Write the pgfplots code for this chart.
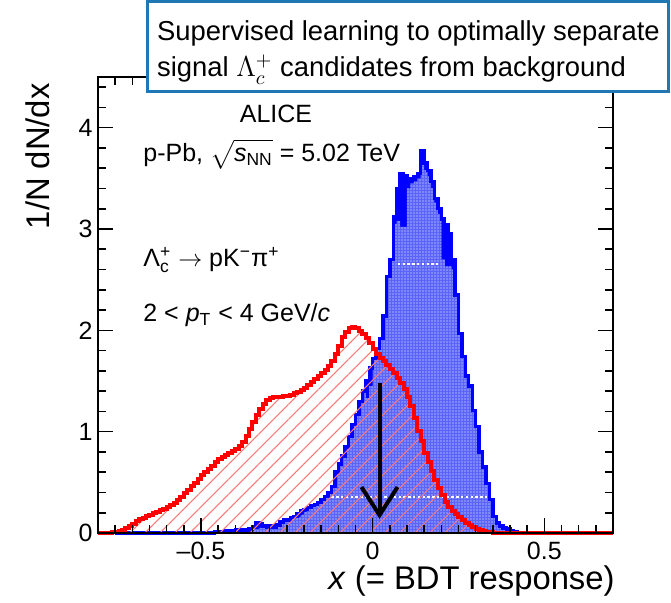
\documentclass[border=0pt]{standalone}
\usepackage{amsmath}
\usepackage{fontspec}
\setmainfont{Liberation Sans}
\usepackage{pgfplots}
\pgfplotsset{compat=1.18}
\usepackage{pgfplotstable}
\usetikzlibrary{patterns.meta,arrows.meta}

\definecolor{boxblue}{RGB}{31,119,180}
\definecolor{hatchred}{RGB}{255,120,120}
\definecolor{sigbody}{RGB}{90,100,250}

% Signal (Lambda_c^+) BDT response, bin left edge and 1/N dN/dx
\pgfplotstableread{
x y
-0.75 0.00
-0.46 0.01
-0.45 0.01
-0.44 0.01
-0.43 0.02
-0.42 0.02
-0.41 0.02
-0.40 0.03
-0.39 0.02
-0.38 0.03
-0.37 0.03
-0.36 0.04
-0.35 0.06
-0.34 0.10
-0.33 0.09
-0.32 0.07
-0.31 0.06
-0.30 0.07
-0.29 0.06
-0.28 0.08
-0.27 0.11
-0.26 0.13
-0.25 0.13
-0.24 0.15
-0.23 0.16
-0.22 0.19
-0.21 0.22
-0.20 0.23
-0.19 0.25
-0.18 0.27
-0.17 0.28
-0.16 0.30
-0.15 0.33
-0.14 0.36
-0.13 0.40
-0.12 0.46
-0.11 0.60
-0.10 0.68
-0.09 0.76
-0.08 0.85
-0.07 0.95
-0.06 1.07
-0.05 1.17
-0.04 1.30
-0.03 1.40
-0.02 1.50
-0.01 1.63
0.00 1.72
0.01 1.82
0.02 1.92
0.03 2.14
0.04 2.53
0.05 2.70
0.06 3.12
0.07 3.40
0.08 3.55
0.09 3.53
0.10 3.48
0.11 3.50
0.12 3.52
0.13 3.55
0.14 3.77
0.15 3.65
0.16 3.58
0.17 3.47
0.18 3.30
0.19 3.20
0.20 3.10
0.21 3.04
0.22 2.95
0.23 2.70
0.24 2.35
0.25 1.97
0.26 1.74
0.27 1.55
0.28 1.45
0.29 1.21
0.30 1.05
0.31 0.80
0.32 0.65
0.33 0.49
0.34 0.33
0.35 0.16
0.36 0.10
0.37 0.07
0.38 0.05
0.39 0.04
0.40 0.02
0.41 0.01
0.42 0.00
}\sigouter

% Signal, patterned body (lower where the outline is drawn solid)
\pgfplotstableread{
x y
-0.75 0.00
-0.46 0.01
-0.45 0.01
-0.44 0.01
-0.43 0.02
-0.42 0.02
-0.41 0.02
-0.40 0.03
-0.39 0.02
-0.38 0.03
-0.37 0.03
-0.36 0.04
-0.35 0.04
-0.34 0.04
-0.33 0.05
-0.32 0.05
-0.31 0.06
-0.30 0.07
-0.29 0.06
-0.28 0.08
-0.27 0.11
-0.26 0.13
-0.25 0.13
-0.24 0.15
-0.23 0.16
-0.22 0.16
-0.21 0.18
-0.20 0.21
-0.19 0.25
-0.18 0.27
-0.17 0.28
-0.16 0.30
-0.15 0.33
-0.14 0.36
-0.13 0.40
-0.12 0.46
-0.11 0.60
-0.10 0.68
-0.09 0.76
-0.08 0.85
-0.07 0.95
-0.06 1.07
-0.05 1.17
-0.04 1.30
-0.03 1.40
-0.02 1.33
-0.01 1.45
0.00 1.72
0.01 1.82
0.02 1.92
0.03 2.14
0.04 2.53
0.05 2.70
0.06 3.05
0.07 3.08
0.08 3.02
0.09 3.02
0.10 3.40
0.11 3.45
0.12 3.47
0.13 3.50
0.14 3.71
0.15 3.58
0.16 3.52
0.17 3.40
0.18 3.26
0.19 3.15
0.20 2.70
0.21 2.63
0.22 2.63
0.23 2.60
0.24 2.35
0.25 1.97
0.26 1.74
0.27 1.55
0.28 1.45
0.29 1.21
0.30 1.05
0.31 0.80
0.32 0.65
0.33 0.49
0.34 0.33
0.35 0.16
0.36 0.10
0.37 0.07
0.38 0.05
0.39 0.04
0.40 0.02
0.41 0.01
0.42 0.00
}\siginner

% Background BDT response
\pgfplotstableread{
x y
-0.80 0.00
-0.76 0.01
-0.75 0.01
-0.74 0.02
-0.73 0.03
-0.72 0.05
-0.71 0.07
-0.70 0.09
-0.69 0.12
-0.68 0.14
-0.67 0.15
-0.66 0.17
-0.65 0.18
-0.64 0.20
-0.63 0.21
-0.62 0.23
-0.61 0.24
-0.60 0.26
-0.59 0.28
-0.58 0.30
-0.57 0.33
-0.56 0.36
-0.55 0.39
-0.54 0.42
-0.53 0.46
-0.52 0.49
-0.51 0.53
-0.50 0.57
-0.49 0.60
-0.48 0.63
-0.47 0.66
-0.46 0.70
-0.45 0.73
-0.44 0.75
-0.43 0.77
-0.42 0.79
-0.41 0.81
-0.40 0.83
-0.39 0.86
-0.38 0.90
-0.37 0.96
-0.36 1.03
-0.35 1.10
-0.34 1.16
-0.33 1.22
-0.32 1.27
-0.31 1.31
-0.30 1.33
-0.29 1.34
-0.28 1.34
-0.27 1.34
-0.26 1.35
-0.25 1.35
-0.24 1.36
-0.23 1.38
-0.22 1.39
-0.21 1.41
-0.20 1.43
-0.19 1.46
-0.18 1.49
-0.17 1.52
-0.16 1.55
-0.15 1.58
-0.14 1.61
-0.13 1.65
-0.12 1.70
-0.11 1.77
-0.10 1.85
-0.09 1.93
-0.08 1.98
-0.07 2.02
-0.06 2.03
-0.05 2.02
-0.04 1.99
-0.03 1.96
-0.02 1.92
-0.01 1.87
0.00 1.82
0.01 1.77
0.02 1.73
0.03 1.70
0.04 1.66
0.05 1.62
0.06 1.58
0.07 1.53
0.08 1.48
0.09 1.42
0.10 1.34
0.11 1.25
0.12 1.13
0.13 1.01
0.14 0.91
0.15 0.79
0.16 0.70
0.17 0.61
0.18 0.52
0.19 0.44
0.20 0.37
0.21 0.31
0.22 0.26
0.23 0.22
0.24 0.19
0.25 0.16
0.26 0.13
0.27 0.10
0.28 0.08
0.29 0.06
0.30 0.04
0.31 0.03
0.32 0.02
0.33 0.01
0.34 0.01
0.35 0.00
0.70 0.00
}\bkg

\begin{document}
\begin{tikzpicture}
\begin{axis}[
  name=ax, at={(0pt,0pt)}, anchor=south west,
  scale only axis, width=257.5pt, height=228pt,
  xmin=-0.8, xmax=0.7, ymin=0, ymax=4.5,
  xtick={-0.5,0,0.5}, xticklabels={–0.5,0,0.5},
  ytick={0,1,2,3,4}, yticklabels={0,1,2,3,4},
  minor xtick={-0.75,-0.7,-0.65,-0.6,-0.55,-0.45,-0.4,-0.35,-0.3,-0.25,-0.2,-0.15,-0.1,-0.05,0.05,0.1,0.15,0.2,0.25,0.3,0.35,0.4,0.45,0.55,0.6,0.65},
  minor ytick={0.2,0.4,0.6,0.8,1.2,1.4,1.6,1.8,2.2,2.4,2.6,2.8,3.2,3.4,3.6,3.8,4.2,4.4},
  tick align=inside,
  major tick length=7.5pt, minor tick length=4pt,
  every tick/.style={black, line width=0.8pt},
  axis line style={black, line width=0.9pt},
  ticklabel style={font=\fontsize{12.5}{15}\selectfont},
  xticklabel style={inner sep=4.3pt},
  yticklabel style={inner sep=2.5pt},
  axis on top, clip=false,
]
% signal: solid envelope, patterned body, outline
\addplot[const plot, draw=none, fill=blue] table[x=x,y=y]{\sigouter} \closedcycle;
\addplot[const plot, draw=none, fill=sigbody,
  postaction={pattern={Dots[distance=1.5pt, radius=0.35pt]}, pattern color=white}]
  table[x=x,y=y]{\siginner} \closedcycle;
\addplot[white, line width=1pt, dash pattern=on 1.2pt off 1.2pt] coordinates {(-0.12,0.36) (0.34,0.36)};
\addplot[white, line width=1pt, dash pattern=on 1.2pt off 1.2pt] coordinates {(0.073,2.65) (0.19,2.65)};
\addplot[const plot, blue, line width=1.7pt] table[x=x,y=y]{\sigouter};
% background: hatched area and outline
\addplot[const plot, draw=none, pattern={Lines[angle=45, distance=5.3pt, line width=0.5pt]}, pattern color=hatchred]
  table[x=x,y=y]{\bkg} \closedcycle;
\addplot[const plot, red, line width=2pt] table[x=x,y=y]{\bkg};
% selection cut
\addplot[black, line width=2pt, -{Straight Barb[length=14pt, width=18pt]}] coordinates {(0.02,1.48) (0.02,0.14)};
\end{axis}

\begin{scope}[every node/.style={inner sep=0pt, font=\fontsize{12.5}{15}\selectfont}]
\node[anchor=base] at (89pt,205pt) {ALICE};
\node[anchor=base west] at (22.5pt,185.7pt) {p-Pb, $\sqrt{\mathstrut\text{\itshape s}_{\text{NN}}}$ = 5.02 TeV};
\node[anchor=base west] at (22.5pt,133.2pt) {Λ$_{\text{c}}^{\text{+}}$ $\rightarrow$ pK$^{\text{−}}$π$^{\text{+}}$};
\node[anchor=base west] at (22.5pt,105.7pt) {2 < \textit{p}$_{\text{T}}$ < 4 GeV/\textit{c}};
\end{scope}

\node[anchor=base east, inner sep=0pt, font=\fontsize{16.4}{20}\selectfont] at (258.5pt,-28.5pt) {\textit{x} (= BDT response)};
\node[rotate=90, anchor=base east, inner sep=0pt, font=\fontsize{16.4}{20}\selectfont] at (-24pt,225pt) {1/N dN/dx};

\draw[boxblue, line width=1.5pt, fill=white] (25pt,220.5pt) rectangle (285pt,265.5pt);
\node[anchor=base west, inner sep=0pt, font=\fontsize{13.7}{17}\selectfont] at (29.4pt,246pt) {Supervised learning to optimally separate};
\node[anchor=base west, inner sep=0pt, font=\fontsize{13.7}{17}\selectfont] at (29.4pt,228pt) {signal $\Lambda_c^+$ candidates from background};

\pgfresetboundingbox
\path[use as bounding box] (-49pt,-35pt) rectangle (286.5pt,266.5pt);
\end{tikzpicture}
\end{document}
